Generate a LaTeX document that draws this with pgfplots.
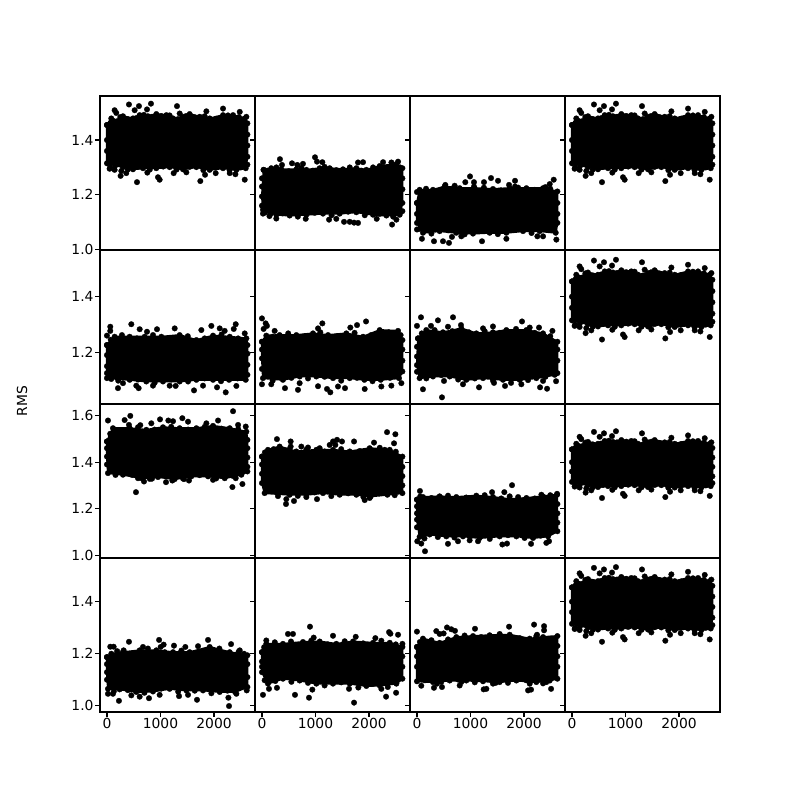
\documentclass[border=0pt]{standalone}
\usepackage{fontspec}
\setmainfont{DejaVu Sans}
\usepackage{pgfplots}
\pgfplotsset{compat=1.18}
\usepgfplotslibrary{groupplots}
\usetikzlibrary{calc}

% dense part of each panel is an outline with dots on it, the rest are plain dots
\pgfplotsset{
  band/.style={black, fill=black, line width=1.5pt, line join=round, mark=*, mark size=2.1pt, mark options={line width=0.2pt}},
  dots/.style={black, only marks, mark=*, mark size=2.1pt, line width=0.2pt},
}

% right hand column (and top left) holds the same series
\newcommand{\colfour}{%
  \addplot[band] coordinates {(0,1.455) (81,1.479) (206,1.470) (299,1.487) (486,1.479) (611,1.491) (766,1.487) (922,1.495) (1109,1.491) (1234,1.479) (1420,1.485) (1545,1.495) (1732,1.485) (1919,1.479) (2168,1.491) (2355,1.491) (2573,1.479) (2623,1.461)
    (2623,1.339) (2592,1.297) (2417,1.291) (2168,1.297) (1919,1.291) (1670,1.301) (1420,1.293) (1171,1.301) (922,1.297) (673,1.297) (486,1.293) (299,1.301) (0,1.315) (0,1.455)};
  \addplot[dots] coordinates {(411,1.530) (598,1.524) (822,1.533) (748,1.512) (143,1.509) (174,1.499) (1308,1.524) (2168,1.515) (1358,1.497) (1857,1.505) (517,1.509) (2480,1.503) (2604,1.485)
    (50,1.295) (143,1.291) (268,1.287) (255,1.269) (361,1.279) (561,1.246) (754,1.281) (953,1.264) (984,1.255) (1246,1.279) (1483,1.282) (1744,1.250) (1832,1.273) (2031,1.279) (2293,1.279) (2399,1.275) (2573,1.255)
    (140,1.468) (250,1.484) (390,1.476) (545,1.480) (690,1.492) (840,1.485) (1015,1.488) (1170,1.490) (1325,1.476) (1480,1.488) (1640,1.483) (1825,1.487) (2040,1.478) (2260,1.490) (2465,1.484)
    (2500,1.300) (2290,1.290) (2040,1.300) (1800,1.290) (1545,1.302) (1300,1.292) (1050,1.303) (800,1.292) (580,1.302) (390,1.292) (150,1.305) (60,1.300)
    (0,1.40) (0,1.36) (2623,1.42) (2623,1.38) (2623,1.31)};
}

\begin{document}
\begin{tikzpicture}
\begin{groupplot}[
  group style={group size=4 by 4, horizontal sep=0pt, vertical sep=0pt,
    xticklabels at=edge bottom, yticklabels at=edge left},
  scale only axis, width=116.25pt, height=115.5pt,
  xmin=-130, xmax=2765,
  axis line style={line width=0.83pt},
  tick align=outside, xtick pos=bottom, ytick pos=left,
  major tick length=3.65pt,
  every tick/.style={black, line width=0.83pt},
  tick label style={font=\fontsize{10.4}{12}\selectfont, /pgf/number format/assume math mode=true},
  xticklabel style={/pgf/number format/1000 sep={}},
  yticklabel style={/pgf/number format/.cd, fixed, fixed zerofill, precision=1},
  tick label style={inner sep=1pt},
  xtick=\empty,
]
% row 1
\nextgroupplot[ymin=0.998, ymax=1.561, ytick={1.0,1.2,1.4}]
\colfour
\nextgroupplot[ymin=0.998, ymax=1.561, ytick={1.0,1.2,1.4}]
\addplot[band] coordinates {(31,1.291) (174,1.297) (361,1.293) (642,1.293) (829,1.291) (1078,1.297) (1265,1.297) (1514,1.293) (1763,1.297) (1950,1.291) (2199,1.305) (2511,1.312) (2623,1.297)
  (2623,1.170) (2573,1.127) (2324,1.124) (2075,1.127) (1763,1.136) (1452,1.131) (1140,1.131) (829,1.127) (517,1.124) (268,1.127) (19,1.145) (0,1.194) (31,1.291)};
\addplot[dots] coordinates {(336,1.330) (374,1.309) (561,1.315) (660,1.309) (766,1.313) (991,1.337) (1028,1.321) (1128,1.319) (1794,1.318) (1888,1.319) (2262,1.319) (2418,1.318) (2542,1.321)
  (19,1.131) (162,1.131) (268,1.113) (817,1.112) (1253,1.109) (1389,1.112) (1533,1.101) (1639,1.101) (1720,1.098) (1794,1.097) (2143,1.112) (2430,1.091) (2511,1.109)
  (100,1.288) (270,1.300) (500,1.286) (735,1.298) (950,1.288) (1170,1.302) (1390,1.290) (1640,1.300) (1860,1.288) (2075,1.300) (2350,1.300) (2580,1.300)
  (2450,1.120) (2200,1.130) (1920,1.125) (1610,1.138) (1300,1.125) (985,1.134) (670,1.120) (390,1.132) (140,1.122) (60,1.135)
  (0,1.26) (0,1.23) (0,1.16) (2623,1.26) (2623,1.22) (2623,1.14)};
\nextgroupplot[ymin=0.998, ymax=1.561, ytick={1.0,1.2,1.4}]
\addplot[band] coordinates {(0,1.170) (50,1.218) (299,1.218) (517,1.230) (798,1.224) (1078,1.224) (1420,1.221) (1732,1.224) (2044,1.224) (2355,1.224) (2623,1.212)
  (2623,1.097) (2592,1.061) (2293,1.067) (1981,1.067) (1670,1.061) (1358,1.061) (1047,1.058) (735,1.061) (424,1.067) (112,1.061) (0,1.097) (0,1.170)};
\addplot[dots] coordinates {(530,1.236) (704,1.233) (903,1.246) (991,1.267) (1065,1.246) (1065,1.230) (1252,1.246) (1383,1.261) (1514,1.251) (1832,1.251) (1720,1.236) (1832,1.230) (2554,1.255) (2480,1.239) (2399,1.228)
  (93,1.039) (318,1.030) (486,1.030) (598,1.024) (654,1.046) (1215,1.030) (829,1.048) (1670,1.039) (2249,1.048) (2355,1.048) (2604,1.036) (0,1.073)
  (170,1.222) (400,1.214) (660,1.222) (940,1.216) (1250,1.226) (1570,1.216) (1890,1.226) (2200,1.218) (2490,1.222)
  (2450,1.072) (2140,1.060) (1825,1.072) (1510,1.056) (1200,1.068) (890,1.055) (580,1.070) (270,1.058) (50,1.075)
  (0,1.21) (0,1.13) (2623,1.17) (2623,1.13)};
\nextgroupplot[ymin=0.998, ymax=1.561, ytick={1.0,1.2,1.4}]
\colfour
% row 2
\nextgroupplot[ymin=1.014, ymax=1.568, ytick={1.2,1.4}]
\addplot[band] coordinates {(0,1.226) (143,1.256) (424,1.256) (704,1.256) (1016,1.256) (1358,1.262) (1670,1.244) (1981,1.260) (2293,1.256) (2604,1.250) (2623,1.226)
  (2623,1.119) (2592,1.101) (2281,1.101) (1981,1.101) (1670,1.101) (1358,1.095) (1047,1.095) (735,1.095) (424,1.101) (0,1.107) (0,1.226)};
\addplot[dots] coordinates {(62,1.292) (62,1.277) (0,1.260) (455,1.301) (611,1.283) (748,1.274) (935,1.283) (1265,1.286) (1763,1.280) (1950,1.295) (2106,1.286) (2199,1.277) (2405,1.301) (2368,1.284) (2573,1.268)
  (206,1.071) (548,1.080) (592,1.071) (860,1.080) (1171,1.080) (1283,1.079) (1626,1.063) (1794,1.080) (2056,1.074) (2218,1.056) (2417,1.079) (299,1.089)
  (70,1.245) (280,1.262) (560,1.250) (860,1.262) (1190,1.250) (1510,1.258) (1825,1.250) (2140,1.264) (2450,1.250)
  (2440,1.106) (2130,1.096) (1825,1.106) (1515,1.095) (1200,1.102) (890,1.090) (580,1.102) (210,1.098) (80,1.104)
  (0,1.19) (0,1.15) (0,1.125) (2623,1.195) (2623,1.155)};
\nextgroupplot[ymin=1.014, ymax=1.568, ytick={1.2,1.4}]
\addplot[band] coordinates {(0,1.238) (81,1.260) (330,1.262) (642,1.262) (953,1.268) (1234,1.262) (1576,1.268) (1888,1.256) (2199,1.280) (2542,1.277) (2623,1.244)
  (2623,1.131) (2560,1.107) (2218,1.101) (1913,1.101) (1639,1.107) (1327,1.107) (1016,1.113) (704,1.113) (392,1.101) (19,1.107) (0,1.178) (0,1.238)};
\addplot[dots] coordinates {(0,1.322) (69,1.304) (93,1.295) (31,1.284) (1128,1.304) (1047,1.286) (1651,1.289) (1776,1.298) (1944,1.311) (237,1.277)
  (0,1.085) (174,1.085) (430,1.071) (673,1.065) (704,1.089) (1047,1.078) (1215,1.068) (1277,1.056) (1420,1.077) (1551,1.071) (1919,1.068) (2230,1.077) (2417,1.080) (2604,1.089)
  (200,1.256) (490,1.268) (800,1.258) (1090,1.272) (1400,1.258) (1730,1.270) (2040,1.262) (2370,1.272) (2590,1.262)
  (2390,1.108) (2065,1.096) (1775,1.108) (1480,1.098) (1170,1.112) (860,1.106) (550,1.108) (200,1.098) (60,1.115)
  (0,1.21) (0,1.14) (2623,1.21) (2623,1.17)};
\nextgroupplot[ymin=1.014, ymax=1.568, ytick={1.2,1.4}]
\addplot[band] coordinates {(19,1.250) (174,1.280) (486,1.272) (829,1.286) (1109,1.268) (1420,1.272) (1670,1.280) (2044,1.280) (2355,1.268) (2623,1.238)
  (2623,1.125) (2573,1.119) (2230,1.107) (1919,1.101) (1607,1.101) (1234,1.107) (922,1.101) (611,1.113) (299,1.113) (50,1.107) (0,1.154) (19,1.250)};
\addplot[dots] coordinates {(75,1.326) (0,1.295) (262,1.295) (392,1.315) (579,1.292) (673,1.326) (822,1.298) (1234,1.286) (1420,1.293) (1962,1.311) (2106,1.289) (2280,1.289) (2530,1.277)
  (112,1.067) (467,1.038) (505,1.097) (860,1.085) (1159,1.074) (1439,1.090) (1645,1.079) (1757,1.090) (1950,1.085) (2299,1.074) (2430,1.069) (2598,1.096) (2355,1.097)
  (90,1.268) (330,1.280) (660,1.276) (970,1.272) (1265,1.276) (1545,1.270) (1850,1.284) (2200,1.270) (2490,1.258)
  (2400,1.112) (2075,1.100) (1760,1.106) (1420,1.098) (1080,1.106) (770,1.102) (455,1.118) (175,1.106)
  (0,1.22) (0,1.185) (0,1.13) (2623,1.21) (2623,1.17)};
\nextgroupplot[ymin=1.014, ymax=1.568, ytick={1.2,1.4}]
\colfour
% row 3
\nextgroupplot[ymin=0.988, ymax=1.650, ytick={1.0,1.2,1.4,1.6}]
\addplot[band] coordinates {(0,1.489) (112,1.546) (424,1.546) (735,1.539) (1047,1.550) (1358,1.546) (1670,1.546) (1981,1.556) (2293,1.546) (2604,1.531) (2623,1.496)
  (2623,1.360) (2511,1.346) (2199,1.331) (1888,1.339) (1576,1.339) (1265,1.327) (953,1.336) (642,1.331) (299,1.346) (19,1.353) (0,1.424) (0,1.489)};
\addplot[dots] coordinates {(19,1.579) (330,1.581) (436,1.599) (411,1.560) (623,1.559) (829,1.567) (991,1.584) (1147,1.579) (1234,1.576) (1408,1.589) (1514,1.574) (1857,1.567) (2075,1.579) (2355,1.619) (2449,1.560) (2592,1.553)
  (542,1.271) (692,1.317) (841,1.329) (1103,1.314) (1221,1.321) (1439,1.327) (1532,1.321) (1981,1.324) (2343,1.293) (2530,1.306) (2405,1.331) (580,1.331)
  (60,1.522) (270,1.538) (580,1.550) (890,1.540) (1200,1.552) (1515,1.540) (1825,1.552) (2140,1.544) (2450,1.542)
  (2360,1.340) (2040,1.330) (1730,1.344) (1420,1.330) (1110,1.340) (800,1.328) (470,1.345) (160,1.345)
  (0,1.46) (0,1.39) (2623,1.46) (2623,1.42) (2623,1.38)};
\nextgroupplot[ymin=0.988, ymax=1.650, ytick={1.0,1.2,1.4,1.6}]
\addplot[band] coordinates {(0,1.424) (112,1.453) (330,1.467) (642,1.446) (1016,1.453) (1327,1.453) (1639,1.446) (2012,1.460) (2386,1.453) (2623,1.424)
  (2623,1.267) (2343,1.260) (2031,1.253) (1763,1.260) (1452,1.260) (1140,1.267) (829,1.260) (517,1.260) (50,1.267) (0,1.310) (0,1.424)};
\addplot[dots] coordinates {(280,1.499) (536,1.489) (536,1.467) (735,1.467) (860,1.463) (1078,1.460) (1265,1.474) (1327,1.489) (1402,1.496) (1495,1.489) (1371,1.474) (1720,1.489) (2093,1.484) (2336,1.529) (2492,1.520) (2467,1.481) (2293,1.453)
  (449,1.220) (598,1.233) (455,1.241) (299,1.254) (1028,1.241) (1919,1.237) (2012,1.246) (829,1.250)
  (55,1.442) (220,1.456) (490,1.452) (830,1.454) (1170,1.446) (1480,1.456) (1825,1.448) (2200,1.462) (2500,1.445)
  (2480,1.258) (2190,1.266) (1895,1.250) (1610,1.266) (1295,1.254) (985,1.270) (670,1.255) (285,1.268)
  (0,1.39) (0,1.35) (2623,1.38) (2623,1.34) (2623,1.30)};
\nextgroupplot[ymin=0.988, ymax=1.650, ytick={1.0,1.2,1.4,1.6}]
\addplot[band] coordinates {(0,1.239) (112,1.250) (424,1.253) (735,1.250) (1109,1.256) (1420,1.250) (1732,1.241) (2044,1.246) (2355,1.253) (2617,1.260)
  (2623,1.103) (2449,1.081) (2168,1.074) (1857,1.081) (1545,1.081) (1171,1.074) (860,1.081) (548,1.081) (237,1.089) (50,1.079) (0,1.153) (0,1.239)};
\addplot[dots] coordinates {(56,1.276) (1402,1.271) (1632,1.271) (1776,1.301) (1732,1.253) (2324,1.260) (2617,1.264)
  (6,1.060) (81,1.050) (150,1.017) (579,1.049) (766,1.060) (984,1.064) (1140,1.060) (1595,1.046) (1682,1.050) (2131,1.049) (2417,1.053) (2467,1.060)
  (60,1.252) (270,1.246) (580,1.256) (920,1.248) (1265,1.258) (1575,1.244) (1890,1.250) (2200,1.244) (2490,1.258)
  (2310,1.084) (2010,1.074) (1700,1.086) (1360,1.070) (1015,1.084) (700,1.076) (390,1.078) (140,1.072)
  (0,1.21) (0,1.18) (0,1.12) (2623,1.22) (2623,1.18) (2623,1.14)};
\nextgroupplot[ymin=0.988, ymax=1.650, ytick={1.0,1.2,1.4,1.6}]
\colfour
% row 4
\nextgroupplot[ymin=0.976, ymax=1.568, ytick={1.0,1.2,1.4}, xtick={0,1000,2000}]
\addplot[band] coordinates {(0,1.187) (81,1.200) (299,1.206) (611,1.213) (922,1.213) (1234,1.206) (1545,1.206) (1919,1.226) (2293,1.206) (2623,1.194)
  (2623,1.072) (2393,1.053) (2106,1.053) (1794,1.059) (1483,1.059) (1171,1.065) (860,1.055) (548,1.053) (237,1.063) (19,1.065) (0,1.129) (0,1.187)};
\addplot[dots] coordinates {(62,1.227) (125,1.227) (411,1.246) (673,1.226) (973,1.253) (1059,1.235) (1003,1.226) (1252,1.231) (1464,1.226) (1701,1.229) (1888,1.253) (2318,1.237) (2480,1.213) (312,1.213)
  (19,1.046) (112,1.046) (224,1.019) (455,1.040) (611,1.035) (785,1.029) (984,1.042) (1346,1.037) (1514,1.042) (1682,1.023) (2268,1.031) (2280,0.999) (2610,1.059) (2417,1.046)
  (190,1.210) (455,1.200) (765,1.220) (1080,1.206) (1390,1.212) (1730,1.208) (2100,1.220) (2460,1.208) (2560,1.200)
  (2250,1.058) (1950,1.048) (1640,1.058) (1330,1.054) (1015,1.066) (700,1.050) (390,1.060) (130,1.056)
  (0,1.16) (0,1.10) (2623,1.16) (2623,1.11)};
\nextgroupplot[ymin=0.976, ymax=1.568, ytick={1.0,1.2,1.4}, xtick={0,1000,2000}]
\addplot[band] coordinates {(0,1.206) (81,1.238) (392,1.238) (766,1.245) (1078,1.247) (1389,1.238) (1701,1.247) (2075,1.242) (2386,1.242) (2623,1.226)
  (2623,1.104) (2511,1.085) (2199,1.078) (1950,1.076) (1639,1.085) (1327,1.085) (1016,1.085) (704,1.097) (392,1.104) (112,1.085) (0,1.129) (0,1.206)};
\addplot[dots] coordinates {(81,1.251) (486,1.276) (579,1.276) (542,1.247) (897,1.304) (966,1.262) (1327,1.269) (1751,1.265) (2118,1.260) (2374,1.283) (2399,1.277) (2542,1.273) (2623,1.238)
  (19,1.042) (131,1.065) (280,1.069) (617,1.042) (878,1.031) (941,1.062) (1626,1.065) (1720,1.012) (2318,1.035) (2505,1.050) (2230,1.065)
  (40,1.225) (240,1.244) (580,1.236) (920,1.250) (1230,1.236) (1545,1.248) (1890,1.240) (2230,1.250) (2500,1.236)
  (2350,1.072) (2075,1.084) (1800,1.070) (1480,1.090) (1170,1.078) (860,1.088) (550,1.092) (250,1.095) (50,1.098)
  (0,1.17) (0,1.15) (2623,1.19) (2623,1.15)};
\nextgroupplot[ymin=0.976, ymax=1.568, ytick={1.0,1.2,1.4}, xtick={0,1000,2000}]
\addplot[band] coordinates {(0,1.226) (112,1.258) (424,1.242) (735,1.264) (1047,1.268) (1358,1.271) (1732,1.273) (2106,1.258) (2355,1.264) (2623,1.268)
  (2623,1.104) (2480,1.097) (2230,1.091) (1857,1.097) (1545,1.091) (1234,1.094) (922,1.097) (611,1.097) (299,1.091) (0,1.094) (0,1.226)};
\addplot[dots] coordinates {(0,1.285) (361,1.287) (424,1.276) (498,1.278) (561,1.301) (642,1.294) (710,1.288) (1084,1.296) (1720,1.304) (2187,1.312) (2374,1.306) (2374,1.290) (2243,1.273)
  (81,1.077) (318,1.069) (467,1.072) (374,1.085) (798,1.078) (829,1.091) (1246,1.063) (1296,1.065) (1420,1.085) (1470,1.088) (2075,1.059) (2131,1.062) (2106,1.085) (2505,1.065) (2417,1.091)
  (55,1.245) (270,1.252) (580,1.255) (890,1.270) (1200,1.264) (1545,1.276) (1920,1.260) (2230,1.268) (2490,1.258)
  (2355,1.086) (2040,1.098) (1700,1.088) (1390,1.098) (1080,1.090) (765,1.101) (455,1.092) (150,1.098)
  (0,1.19) (0,1.15) (2623,1.23) (2623,1.19) (2623,1.15)};
\nextgroupplot[ymin=0.976, ymax=1.568, ytick={1.0,1.2,1.4}, xtick={0,1000,2000}]
\colfour
\end{groupplot}
\node[rotate=90, font=\fontsize{10.4}{12}\selectfont] at ($(group c1r1.north west)+(-58.5pt,-229pt)$) {RMS};
\path[use as bounding box] ($(group c1r1.north west)+(-75pt,72pt)$) rectangle +(600pt,-600pt);
\end{tikzpicture}
\end{document}
